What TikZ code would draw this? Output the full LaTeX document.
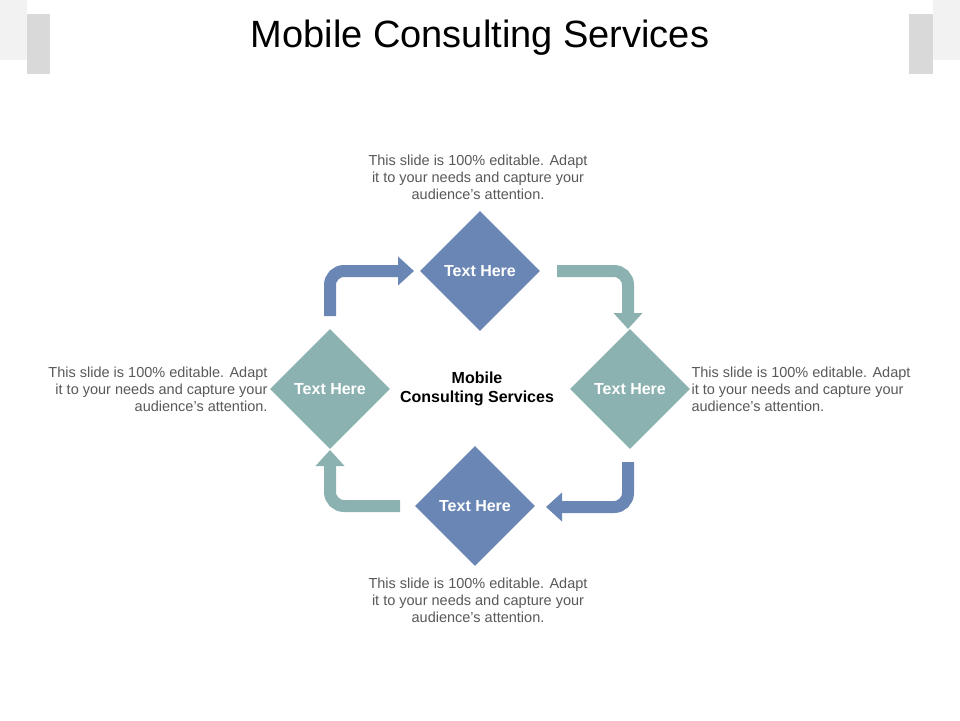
\documentclass[tikz,border=0pt]{standalone}
\usepackage{fontspec}
\setmainfont{Liberation Sans}
\usetikzlibrary{shapes.geometric,arrows.meta}
\definecolor{cblue}{HTML}{6A86B4}
\definecolor{cteal}{HTML}{8BB1B1}
\definecolor{cgray}{HTML}{595959}
\begin{document}
\begin{tikzpicture}[x=1pt,y=-1pt,
  dia/.style={diamond,minimum width=120pt,minimum height=120pt,inner sep=0pt,text=white,font=\fontsize{16}{18}\selectfont\bfseries},
  desc/.style={text=cgray,font=\fontsize{14.5}{17}\selectfont,align=center},
  flow/.style={line width=12pt,rounded corners=14pt,-{Triangle[width=28pt,length=16pt]}}]
\useasboundingbox (0,0) rectangle (960,720);
\fill[white] (0,0) rectangle (960,720);
\fill[black!5] (0,0) rectangle (27,60);
\fill[black!5] (933,0) rectangle (960,60);
\fill[black!15] (27,14) rectangle (50,74);
\fill[black!15] (909,14) rectangle (933,74);
\node (title) at (480,38) {\fontsize{38}{44}\selectfont Mobile Consulting Services};
\node[dia,fill=cblue] (t) at (480,271) {Text Here};
\node[dia,fill=cteal] (r) at (630,389) {Text Here};
\node[dia,fill=cteal] (l) at (330,389) {Text Here};
\node[dia,fill=cblue] (b) at (475,506) {Text Here};
\node[font=\fontsize{16}{19}\selectfont\bfseries,align=center] (c) at (477,389) {Mobile\\Consulting Services};
\node[desc] (dt) at (478,177) {This slide is 100\% editable. Adapt\\it to your needs and capture your\\audience's attention.};
\node[desc] (db) at (478,600) {This slide is 100\% editable. Adapt\\it to your needs and capture your\\audience's attention.};
\node[desc,align=right,anchor=east] (dl) at (271,389) {This slide is 100\% editable. Adapt\\it to your needs and capture your\\audience's attention.};
\node[desc,align=left,anchor=west] (dr) at (688,389) {This slide is 100\% editable. Adapt\\it to your needs and capture your\\audience's attention.};
\coordinate (a1) at (330,316); \coordinate (a1e) at (414,271);
\coordinate (a2) at (557,271); \coordinate (a2e) at (628,329);
\coordinate (a3) at (628,462); \coordinate (a3e) at (546,507);
\coordinate (a4) at (400,506); \coordinate (a4e) at (330,450);
\draw[flow,cblue] (a1) |- (a1e);
\draw[flow,cteal] (a2) -| (a2e);
\draw[flow,cblue] (a3) |- (a3e);
\draw[flow,cteal] (a4) -| (a4e);
\end{tikzpicture}
\end{document}
